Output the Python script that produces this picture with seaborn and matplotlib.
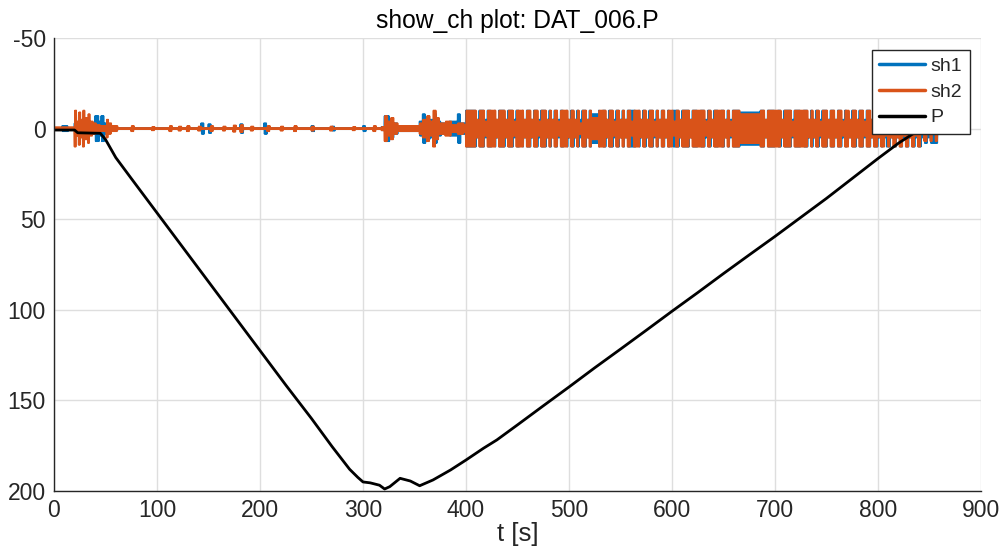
import numpy as np
import pandas as pd
import matplotlib
matplotlib.use("Agg")
import matplotlib.pyplot as plt
import seaborn as sns

# ---------------- data ----------------
# pressure curve P
P_t = [0, 20, 23, 45, 50, 60, 75, 100, 125, 150, 175, 200, 225, 250, 270, 287,
       295, 300, 307, 316, 321, 326, 336, 346, 355, 368, 385, 400, 417, 430,
       450, 475, 500, 525, 550, 575, 600, 625, 650, 675, 700, 725, 750, 775,
       800, 820, 835, 842, 858]
P_v = [0.8, 0.8, 2.3, 2.6, 6, 16, 27.5, 46.5, 65.5, 84.5, 103.5, 122.5, 141.5,
       160, 175.5, 188, 192.5, 195, 195.5, 196.8, 198.9, 197.6, 193, 194.5,
       197.1, 193.9, 188.4, 182.9, 176.4, 171.8, 163.5, 153, 142.6, 132,
       121.7, 111.3, 100.8, 90.5, 80, 69.7, 59.5, 49, 38.5, 27.5, 16.5, 8,
       2.5, 0.5, 0]

# oscillating signals: envelope breakpoints [s] and amplitudes (piecewise constant)
sh1_bp = [0, 8, 14, 20, 24, 28, 33, 40, 44, 46, 49, 52, 56, 62, 318, 321, 326,
          330, 334, 355, 358, 361, 365, 369, 372, 376, 384, 392, 395, 400, 522,
          529, 666, 686, 845, 858]
sh1_amp = [0.4, 1.5, 0.5, 3, 4, 5, 3, 7, 4, 7, 3, 1.5, 1, 0.3, 1, 7, 5, 3, 1.5,
           4, 8, 6, 5, 8, 4, 3, 4, 8, 3, 10, 8, 10, 9, 10, 8, 0]
sh2_bp = [0, 20, 22, 24, 26, 28, 30, 33, 35, 38, 41, 45, 51, 53, 56, 62, 318,
          321, 324, 327, 330, 334, 355, 358, 362, 365, 368, 371, 374, 380, 386,
          392, 398, 400, 522, 529, 666, 686, 845, 858]
sh2_amp = [0.8, 10, 4, 9, 5, 10, 6, 8, 4, 3, 2, 1.5, 5, 3, 1.5, 0.3, 1, 7, 4, 6,
           3, 1.5, 3, 5, 7, 4, 10, 6, 3, 4, 2, 3, 2, 10, 6, 10, 8, 10, 7, 0]

# short events (notches inside the saturated band, blips in the quiet part)
sh1_ev_t = [143, 150, 181, 204, 250, 270, 300,
            410, 418, 425, 429, 438, 446, 452, 456, 463, 470, 478, 483, 489, 495,
            499, 505, 510, 517, 530, 536, 543, 549, 554, 565, 569, 575, 582, 587,
            593, 598, 607, 617, 625, 632, 638, 645, 651, 656, 690, 700, 706, 716,
            725, 732, 737, 743, 751, 758, 765, 770, 772, 779, 786, 793, 800, 805,
            812, 818, 824, 830, 836, 842, 848]
sh1_ev_a = [3, 2.5, 2.5, 3, 1.5, 1.2, 1.5] + [5] * 63
sh2_ev_t = [75, 95, 112, 121, 129, 140, 152, 164, 174, 181, 191, 207, 220, 233,
            250, 268, 290, 310,
            410, 418, 429, 438, 446, 456, 463, 470, 478, 483, 489, 499, 505, 510,
            517, 536, 543, 549, 554, 560, 569, 575, 582, 587, 593, 601, 607, 617,
            632, 638, 651, 656, 690, 706, 716, 732, 737, 743, 751, 758, 765, 772,
            779, 786, 793, 800, 807, 812, 818, 824, 830, 836, 842, 848, 853]
sh2_ev_a = [1.5, 1, 1.5, 1.2, 1.5, 1.2, 1.5, 1.2, 1.8, 2, 1.2, 1.5, 1.2, 1.5,
            1.2, 1.2, 1, 1.5,
            5, 4, 5, 5, 4, 5, 5, 4, 5, 5, 4, 5, 5, 3, 5, 5, 4, 5, 5, 4, 5, 5,
            4, 5, 5, 4, 5, 5, 4, 5, 5, 4, 5, 5, 4, 5, 5, 4, 5, 5, 4, 5, 5, 4,
            5, 5, 4, 5, 5, 4, 5, 4, 3, 3, 3]

# ---------------- build the sampled signals ----------------
tt = np.arange(0, 858.01, 0.5)


def envelope(bp, amp, ev_t, ev_a, width=3.0):
    idx = np.searchsorted(bp, tt, side="right") - 1
    env = np.asarray(amp, float)[idx]
    for t0, a in zip(ev_t, ev_a):
        env[(tt >= t0) & (tt < t0 + width)] = a
    return env


carrier = np.where(np.arange(tt.size) % 2 == 0, 1.0, -1.0)
sh1 = envelope(sh1_bp, sh1_amp, sh1_ev_t, sh1_ev_a) * -carrier
sh2 = envelope(sh2_bp, sh2_amp, sh2_ev_t, sh2_ev_a) * carrier

df_sig = pd.DataFrame({"t": tt, "sh1": sh1, "sh2": sh2})
df_p = pd.DataFrame({"t": P_t, "P": P_v})

# ---------------- plotting ----------------
sns.set_style("white")
plt.rcParams["font.family"] = ["Liberation Sans", "DejaVu Sans"]
plt.rcParams["axes.unicode_minus"] = False

fig = plt.figure(figsize=(10.03, 5.54), dpi=100)
ax = fig.add_axes([54 / 1003, 63 / 554, 927 / 1003, 453 / 554])

c1, c2 = "#0072BD", "#D95319"
sns.lineplot(data=df_sig, x="t", y="sh1", ax=ax, color=c1, lw=1.2,
             estimator=None, sort=False, label="sh1")
sns.lineplot(data=df_sig, x="t", y="sh2", ax=ax, color=c2, lw=1.2,
             estimator=None, sort=False, label="sh2")
sns.lineplot(data=df_p, x="t", y="P", ax=ax, color="black", lw=2,
             estimator=None, sort=False, label="P")

ax.set_xlim(0, 900)
ax.set_ylim(200, -50)
ax.set_xticks(np.arange(0, 901, 100))
ax.set_yticks(np.arange(-50, 201, 50))
ax.grid(True, color="#dedede", lw=1)
ax.set_axisbelow(True)
for s in ["top", "right"]:
    ax.spines[s].set_visible(False)
for s in ["left", "bottom"]:
    ax.spines[s].set_color("#262626")
    ax.spines[s].set_linewidth(1)
ax.tick_params(direction="in", length=4, width=1, colors="#262626",
               labelsize=16.5, pad=6)
ax.set_xlabel("t [s]", fontsize=18.5, color="#262626", labelpad=0)
ax.set_ylabel("")
ax.set_title("show_ch plot: DAT_006.P", fontsize=17.7, color="black", pad=7)

leg = ax.legend(loc="upper right", bbox_to_anchor=(0.988, 0.974),
                borderaxespad=0, fancybox=False, framealpha=1,
                edgecolor="#262626", fontsize=14, handlelength=2.37,
                handletextpad=0.3, labelspacing=0.42, borderpad=0.38)
leg.get_frame().set_linewidth(1)
for line in leg.get_lines():
    line.set_linewidth(2.5)

fig.savefig("out.png", dpi=100)
